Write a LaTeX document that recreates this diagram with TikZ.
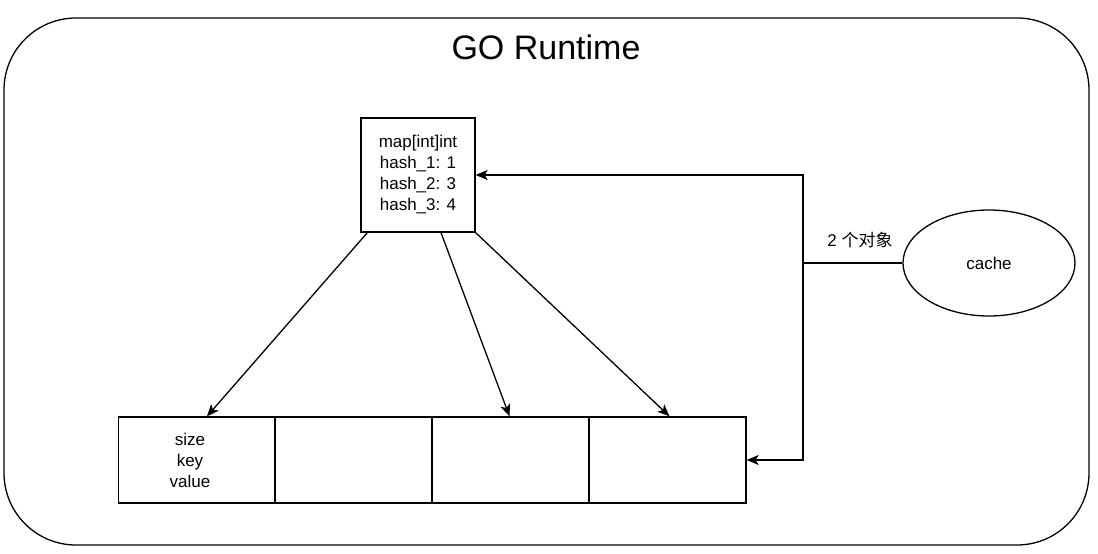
\documentclass[tikz,border=0pt]{standalone}
\usepackage{fontspec}
\setmainfont{Liberation Sans}
\newfontfamily\cjk{Noto Sans CJK SC}
\usetikzlibrary{arrows.meta,shapes.geometric}
\begin{document}
\begin{tikzpicture}[x=1pt,y=-1pt,
  line width=1.3pt,
  boxstyle/.style={draw, inner sep=0pt, align=center, font=\fontsize{17}{21}\selectfont},
  cellstyle/.style={boxstyle, minimum width=157pt, minimum height=86pt},
  arr/.style={-{Stealth[length=12pt,width=10pt,inset=3pt]}},
  conn/.style={line width=1.3pt}]
\useasboundingbox (0,0) rectangle (1098,554);
\fill[white] (0,0) rectangle (1098,554);
\node[draw, rounded corners=72pt, minimum width=1085pt, minimum height=527pt, inner sep=0pt] (runtime) at (546.5,281.5) {};
\node[font=\fontsize{34}{38}\selectfont] (title) at (546,47) {GO Runtime};
\node[boxstyle, minimum width=114pt, minimum height=114pt] (map) at (418,175) {map[int]int\\hash\_1: 1\\hash\_2: 3\\hash\_3: 4};
\node[cellstyle] (c1) at (197,460) {};
\node[boxstyle, draw=none] (c1text) at (190,460) {size\\key\\value};
\node[cellstyle] (c2) at (353.5,460) {};
\node[cellstyle] (c3) at (510.5,460) {};
\node[cellstyle] (c4) at (667.5,460) {};
\node[draw, ellipse, minimum width=172pt, minimum height=106pt, inner sep=0pt, font=\fontsize{17}{21}\selectfont] (cache) at (989,263) {cache};
\coordinate (j) at (803,263);
\draw[conn] (cache.west) -- (j);
\draw[conn, arr] (j) |- (map.east);
\draw[conn, arr] (j) |- (c4.east);
\node[font=\fontsize{17}{21}\selectfont] (lbl) at (860,240) {2 {\cjk 个对象}};
\draw[conn, arr] ([xshift=7pt]map.south west) -- ([xshift=10pt]c1.north);
\draw[conn, arr] ([xshift=23pt]map.south) -- ([xshift=-1pt]c3.north);
\draw[conn, arr] (map.south east) -- ([xshift=2pt]c4.north);
\end{tikzpicture}
\end{document}
